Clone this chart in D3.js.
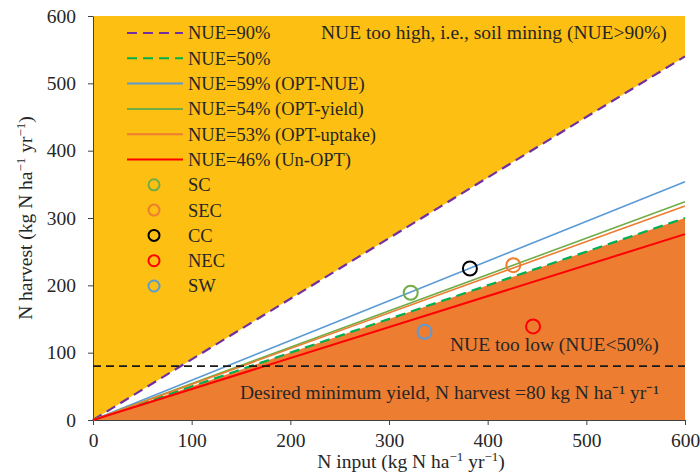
<!DOCTYPE html>
<html>
<head>
  <script src="https://cdn.jsdelivr.net/npm/d3@7"></script>
  <style>
    body { margin: 0; background: #fff; }
    text { font-family: "Liberation Serif", "Times New Roman", serif; fill: #262626; }
  </style>
</head>
<body>
  <svg width="700" height="476" id="mainsvg"></svg>
  <script>
    // NUE reference lines (slope = NUE)
    const lineNames = ['NUE=90%', 'NUE=50%', 'NUE=59% (OPT-NUE)', 'NUE=54% (OPT-yield)', 'NUE=53% (OPT-uptake)', 'NUE=46% (Un-OPT)'];
    const lineNUE = [0.90, 0.50, 0.59, 0.54, 0.53, 0.46];
    const lineColors = ['#7030A0', '#00B050', '#5B9BD5', '#70AD47', '#ED7D31', '#FF0000'];
    const lineDashed = [true, true, false, false, false, false];

    // regions
    const siteNames = ['SC', 'SEC', 'CC', 'NEC', 'SW'];
    const siteInput = [322, 426, 382, 446, 336];
    const siteHarvest = [189, 230, 225, 139, 131];
    const siteColors = ['#70AD47', '#ED7D31', '#000000', '#FF0000', '#5B9BD5'];

    const xTicks = [0, 100, 200, 300, 400, 500, 600];
    const yTicks = [0, 100, 200, 300, 400, 500, 600];
    const minYield = 80;

    const fs = '19.5px';
    const svg = d3.select('#mainsvg');
    const margin = { top: 16, right: 15, bottom: 56, left: 93 };
    const innerWidth = 700 - margin.left - margin.right;
    const innerHeight = 476 - margin.top - margin.bottom;
    const g = svg.append('g').attr('transform', `translate(${margin.left},${margin.top})`);

    const x = d3.scaleLinear().domain([0, 600]).range([0, innerWidth]);
    const y = d3.scaleLinear().domain([0, 600]).range([innerHeight, 0]);
    const area = d3.line().x(d => x(d[0])).y(d => y(d[1]));

    // shaded zones
    g.append('path')
      .attr('d', area([[0, 0], [0, 600], [600, 600], [600, 600 * lineNUE[0]]]))
      .attr('fill', '#FCBF12');
    g.append('path')
      .attr('d', area([[0, 0], [600, 0], [600, 600 * lineNUE[1]]]))
      .attr('fill', '#ED7D31');

    // axes
    const xAxis = g.append('g').attr('transform', `translate(0,${innerHeight})`)
      .call(d3.axisBottom(x).tickValues(xTicks).tickSizeOuter(0).tickSizeInner(5).tickPadding(8));
    const yAxis = g.append('g')
      .call(d3.axisLeft(y).tickValues(yTicks).tickSizeOuter(0).tickSizeInner(5).tickPadding(12));
    [xAxis, yAxis].forEach(a => {
      a.attr('font-size', 19.5).attr('font-family', '"Liberation Serif", serif');
      a.selectAll('path, line').attr('stroke', '#404040');
      a.selectAll('text').attr('fill', '#262626');
    });

    // NUE lines
    lineNUE.forEach((k, i) => {
      g.append('line')
        .attr('x1', x(0)).attr('y1', y(0))
        .attr('x2', x(600)).attr('y2', y(600 * k))
        .attr('stroke', lineColors[i])
        .attr('stroke-width', i === 5 ? 2 : (lineDashed[i] ? 2.2 : 1.6))
        .attr('stroke-dasharray', lineDashed[i] ? '10,6' : null);
    });

    // minimum yield
    g.append('line')
      .attr('x1', x(0)).attr('x2', x(600))
      .attr('y1', y(minYield)).attr('y2', y(minYield))
      .attr('stroke', '#1a1a1a').attr('stroke-width', 1.6)
      .attr('stroke-dasharray', '8,5');

    // sites
    g.selectAll('.site').data(siteNames).join('circle')
      .attr('class', 'site')
      .attr('cx', (d, i) => x(siteInput[i]))
      .attr('cy', (d, i) => y(siteHarvest[i]))
      .attr('r', 7)
      .attr('fill', 'none')
      .attr('stroke', (d, i) => siteColors[i])
      .attr('stroke-width', 2);

    // legend
    const leg = svg.append('g');
    const rowH = 25.3;
    lineNames.forEach((name, i) => {
      const yy = 33 + i * rowH;
      leg.append('line').attr('x1', 127).attr('x2', 183).attr('y1', yy).attr('y2', yy)
        .attr('stroke', lineColors[i]).attr('stroke-width', 2)
        .attr('stroke-dasharray', lineDashed[i] ? '10,6' : null);
      leg.append('text').attr('x', 188).attr('y', yy).attr('dy', '0.35em')
        .style('font-size', '18.5px').text(name);
    });
    siteNames.forEach((name, i) => {
      const yy = 33 + (i + 6) * rowH;
      leg.append('circle').attr('cx', 154).attr('cy', yy).attr('r', 5.5)
        .attr('fill', 'none').attr('stroke', siteColors[i]).attr('stroke-width', 2);
      leg.append('text').attr('x', 188).attr('y', yy).attr('dy', '0.35em')
        .style('font-size', '18.5px').text(name);
    });

    // annotations
    svg.append('text').attr('x', 321).attr('y', 39).style('font-size', fs)
      .text('NUE too high, i.e., soil mining (NUE>90%)');
    svg.append('text').attr('x', 450).attr('y', 351).style('font-size', fs)
      .text('NUE too low (NUE<50%)');
    svg.append('text').attr('x', 240).attr('y', 399).style('font-size', fs)
      .text('Desired minimum yield, N harvest =80 kg N ha\u207B\u00B9 yr\u207B\u00B9');

    // axis titles
    const xt = svg.append('text').attr('x', 411).attr('y', 468).attr('text-anchor', 'middle')
      .style('font-size', fs);
    xt.append('tspan').text('N input (kg N ha');
    xt.append('tspan').attr('dy', -7).style('font-size', '13px').text('\u22121');
    xt.append('tspan').attr('dy', 7).text(' yr');
    xt.append('tspan').attr('dy', -7).style('font-size', '13px').text('\u22121');
    xt.append('tspan').attr('dy', 7).text(')');

    const yt = svg.append('text').attr('transform', 'translate(32,218) rotate(-90)')
      .attr('text-anchor', 'middle').style('font-size', fs);
    yt.append('tspan').text('N harvest (kg N ha');
    yt.append('tspan').attr('dy', -7).style('font-size', '13px').text('\u22121');
    yt.append('tspan').attr('dy', 7).text(' yr');
    yt.append('tspan').attr('dy', -7).style('font-size', '13px').text('\u22121');
    yt.append('tspan').attr('dy', 7).text(')');
  </script>
</body>
</html>
